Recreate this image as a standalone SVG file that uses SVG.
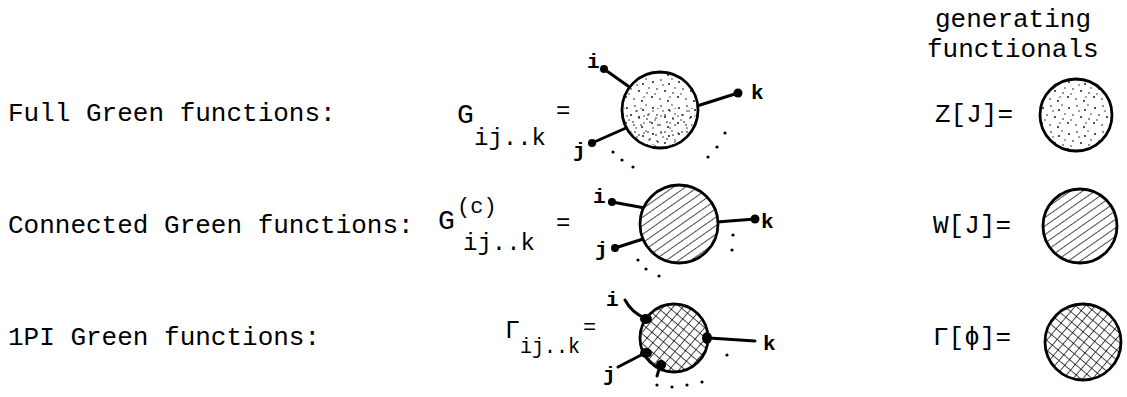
<svg xmlns="http://www.w3.org/2000/svg" width="1127" height="397" viewBox="0 0 1127 397">
<style>
.t{font-family:"Liberation Mono","Courier New",monospace;font-size:26px;fill:#000}
.f{font-family:"Liberation Mono","Courier New",monospace;fill:#000}
.lb{font-family:"Liberation Mono","Courier New",monospace;font-size:21px;font-weight:bold;fill:#000}
.blob{stroke:#000;stroke-width:2.8}
.leg{stroke:#000;stroke-width:3;fill:none;stroke-linecap:round}
.end{fill:#000}
.dt{fill:#000}
</style>
<defs>
<pattern id="stip" width="26" height="26" patternUnits="userSpaceOnUse">
<rect width="26" height="26" fill="#fff"/>
<g fill="#000">
<circle cx="3" cy="4" r="0.9"/><circle cx="11" cy="2" r="0.8"/><circle cx="19" cy="6" r="0.9"/>
<circle cx="7" cy="11" r="0.8"/><circle cx="15" cy="13" r="0.9"/><circle cx="23" cy="15" r="0.8"/>
<circle cx="2" cy="19" r="0.9"/><circle cx="10" cy="21" r="0.8"/><circle cx="18" cy="23" r="0.9"/>
<circle cx="22" cy="1" r="0.7"/><circle cx="13" cy="7" r="0.7"/><circle cx="5" cy="16" r="0.7"/>
<circle cx="20" cy="19" r="0.7"/><circle cx="25" cy="10" r="0.7"/>
</g>
</pattern>
<pattern id="stip2" width="17" height="17" patternUnits="userSpaceOnUse">
<g fill="#000">
<circle cx="4" cy="3" r="0.8"/><circle cx="12" cy="6" r="0.8"/><circle cx="7" cy="9" r="0.7"/>
<circle cx="2" cy="13" r="0.8"/><circle cx="15" cy="14" r="0.7"/><circle cx="10" cy="16" r="0.8"/>
</g>
</pattern>
<clipPath id="c1"><circle cx="660" cy="110" r="36"/></clipPath>
<pattern id="hatch" width="7" height="7" patternUnits="userSpaceOnUse" patternTransform="rotate(-35)">
<rect width="7" height="7" fill="#fff"/>
<line x1="0" y1="0" x2="7" y2="0" stroke="#000" stroke-width="1.4"/>
</pattern>
<pattern id="cross" width="7.5" height="7.5" patternUnits="userSpaceOnUse" patternTransform="rotate(40)">
<rect width="7.5" height="7.5" fill="#fff"/>
<line x1="0" y1="0" x2="7.5" y2="0" stroke="#000" stroke-width="1.4"/>
<line x1="0" y1="0" x2="0" y2="7.5" stroke="#000" stroke-width="1.4"/>
</pattern>
</defs>

<g id="labels">
<text class="t" x="8" y="121">Full Green functions:</text>
<text class="t" x="8" y="233">Connected Green functions:</text>
<text class="t" x="8" y="345">1PI Green functions:</text>
<text class="t" x="935" y="27">generating</text>
<text class="t" x="927" y="57">functionals</text>
</g>

<g id="formula-full">
<text class="f" font-size="28" x="457" y="123">G</text>
<text class="f" font-size="24" x="474" y="145">ij..k</text>
<text class="f" font-size="24" x="556" y="118">=</text>
</g>
<g id="formula-connected">
<text class="f" font-size="28" x="438" y="229">G</text>
<text class="f" font-size="22" x="457" y="213">(c)</text>
<text class="f" font-size="24" x="463" y="250">ij..k</text>
<text class="f" font-size="24" x="556" y="230">=</text>
</g>
<g id="formula-1pi">
<text class="f" font-size="25" x="505" y="338">Γ</text>
<text class="f" font-size="22" x="520" y="353" textLength="60" lengthAdjust="spacingAndGlyphs">ij..k</text>
<text class="f" font-size="22" x="583" y="334">=</text>
</g>

<g id="connectors">
<line class="leg" x1="604" y1="69" x2="628" y2="86"/>
<line class="leg" x1="592" y1="143" x2="626" y2="128"/>
<line class="leg" x1="697" y1="106" x2="738" y2="93"/>
<line class="leg" x1="612" y1="202" x2="645" y2="208"/>
<line class="leg" x1="615" y1="248" x2="643" y2="239"/>
<line class="leg" x1="717" y1="222" x2="755" y2="219"/>
<path class="leg" d="M625 300 Q632 313 645 318"/>
<line class="leg" x1="618" y1="367" x2="645" y2="353"/>
<line class="leg" x1="660" y1="366" x2="657" y2="376"/>
<line class="leg" x1="709" y1="338" x2="755" y2="341"/>
</g>

<g id="node-G">
<circle cx="660" cy="110" r="38" fill="url(#stip)"/>
<rect x="620" y="108" width="80" height="42" fill="url(#stip2)" clip-path="url(#c1)"/>
<circle cx="660" cy="110" r="38" fill="none" class="blob"/>
<circle class="end" cx="604" cy="69" r="4"/>
<circle class="end" cx="592" cy="143" r="4"/>
<circle class="end" cx="738" cy="93" r="4.5"/>
<text class="lb" x="587" y="68">i</text>
<text class="lb" x="573" y="157">j</text>
<text class="lb" x="751" y="99" font-size="24">k</text>
<circle class="dt" cx="613" cy="152" r="1.6"/><circle class="dt" cx="622" cy="160" r="1.6"/><circle class="dt" cx="633" cy="167" r="1.6"/>
<circle class="dt" cx="725" cy="133" r="1.6"/><circle class="dt" cx="717" cy="147" r="1.6"/><circle class="dt" cx="708" cy="157" r="1.6"/>
</g>

<g id="node-Gc">
<circle cx="679" cy="224" r="39" fill="url(#hatch)" class="blob"/>
<circle class="end" cx="612" cy="202" r="4"/>
<circle class="end" cx="615" cy="248" r="4"/>
<circle class="end" cx="755" cy="219" r="4.5"/>
<text class="lb" x="593" y="203">i</text>
<text class="lb" x="595" y="256">j</text>
<text class="lb" x="761" y="228" font-size="24">k</text>
<circle class="dt" cx="638" cy="260" r="1.6"/><circle class="dt" cx="646" cy="269" r="1.6"/><circle class="dt" cx="659" cy="276" r="1.6"/>
<circle class="dt" cx="733" cy="235" r="1.6"/><circle class="dt" cx="732" cy="250" r="1.6"/>
</g>

<g id="node-Gamma">
<circle cx="674" cy="338" r="34" fill="url(#cross)" class="blob"/>
<ellipse class="end" cx="646" cy="319" rx="6" ry="5"/>
<ellipse class="end" cx="646" cy="353" rx="6" ry="5"/>
<ellipse class="end" cx="661" cy="365" rx="5" ry="5"/>
<ellipse class="end" cx="707" cy="338" rx="5" ry="6"/>
<text class="lb" x="606" y="306">i</text>
<text class="lb" x="603" y="381">j</text>
<text class="lb" x="763" y="350" font-size="24">k</text>
<circle class="dt" cx="657" cy="385" r="1.6"/><circle class="dt" cx="672" cy="387" r="1.6"/><circle class="dt" cx="687" cy="385" r="1.6"/><circle class="dt" cx="702" cy="382" r="1.6"/>
<circle class="dt" cx="727" cy="355" r="1.6"/>
</g>

<g id="node-Z">
<text class="t" x="935" y="122">Z[J]=</text>
<circle cx="1076" cy="115" r="36" fill="url(#stip)" class="blob"/>
</g>
<g id="node-W">
<text class="t" x="933" y="233">W[J]=</text>
<circle cx="1080" cy="226" r="37" fill="url(#hatch)" class="blob"/>
</g>
<g id="node-Gam">
<text class="t" x="933" y="345">Γ[ϕ]=</text>
<circle cx="1083" cy="342" r="38" fill="url(#cross)" class="blob"/>
</g>
</svg>
